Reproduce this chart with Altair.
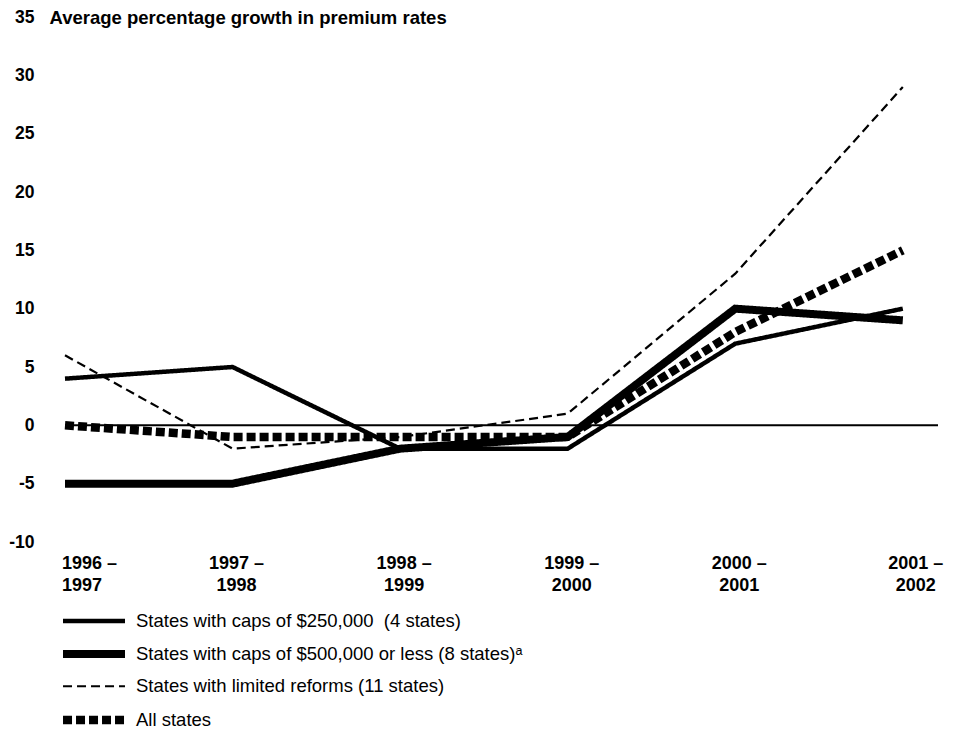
import altair as alt
import pandas as pd

periods = ["1996 –\n1997", "1997 –\n1998", "1998 –\n1999", "1999 –\n2000", "2000 –\n2001", "2001 –\n2002"]
series_names = [
    "States with caps of $250,000\u00a0 (4 states)",
    "States with caps of $500,000 or less (8 states)ᵃ",
    "States with limited reforms (11 states)",
    "All states",
]
caps_250 = [4, 5, -2, -2, 7, 10]
caps_500 = [-5, -5, -2, -1, 10, 9]
limited = [6, -2, -1, 1, 13, 29]
all_states = [0, -1, -1, -1, 8, 15]
y_ticks = [-10, -5, 0, 5, 10, 15, 20, 25, 30, 35]

rows = []
for name, vals in zip(series_names, [caps_250, caps_500, limited, all_states]):
    for i, v in enumerate(vals):
        rows.append({"series": name, "idx": i, "value": v})
df = pd.DataFrame(rows)
labels_df = pd.DataFrame({"idx": list(range(len(periods))), "label": periods})

W, H = 873, 525
FONT = "Liberation Sans"

xscale = alt.Scale(domain=[0, 5.21], nice=False, zero=False)
yscale = alt.Scale(domain=[-10, 35], nice=False, zero=False)

yaxis = alt.Axis(
    values=y_ticks,
    grid=False,
    domain=False,
    ticks=False,
    labelExpr="'' + datum.value",
    labelFont=FONT,
    labelFontSize=17.5,
    labelFontWeight="bold",
    labelColor="black",
    labelPadding=31,
    title="Average percentage growth in premium rates",
    titleFont=FONT,
    titleFontSize=18.5,
    titleFontWeight="bold",
    titleColor="black",
    titleAngle=0,
    titleAlign="left",
    titleBaseline="middle",
    titleX=-16,
    titleY=0,
)

lines = alt.Chart(df).mark_line(color="black", strokeCap="butt", strokeJoin="miter").encode(
    x=alt.X("idx:Q", scale=xscale, axis=None),
    y=alt.Y("value:Q", scale=yscale, axis=yaxis),
    detail="series:N",
    order=alt.Order("idx:Q"),
    strokeWidth=alt.StrokeWidth(
        "series:N",
        scale=alt.Scale(type="ordinal", domain=series_names, range=[4.5, 8, 2.2, 8.5]),
        sort=series_names,
        legend=alt.Legend(title=None),
    ),
    strokeDash=alt.StrokeDash(
        "series:N",
        scale=alt.Scale(domain=series_names, range=[[1, 0], [1, 0], [9, 5], [9, 4]]),
        sort=series_names,
        legend=alt.Legend(title=None),
    ),
)

zero = alt.Chart(pd.DataFrame({"y": [0]})).mark_rule(color="black", strokeWidth=2).encode(
    y=alt.Y("y:Q", scale=yscale, axis=yaxis)
)

text_style = dict(font=FONT, fontSize=18, fontWeight="bold", color="black",
                  baseline="middle", lineBreak="\n", lineHeight=21.5)

base_labels = alt.Chart(labels_df).encode(
    x=alt.X("idx:Q", scale=xscale, axis=None),
    y=alt.value(H + 22),
    text="label:N",
)
xl_first = base_labels.transform_filter("datum.idx == 0").mark_text(align="left", dx=-3, **text_style)
xl_mid = base_labels.transform_filter("datum.idx > 0 && datum.idx < 5").mark_text(align="center", dx=4, **text_style)
xl_last = base_labels.transform_filter("datum.idx == 5").mark_text(align="center", dx=13, **text_style)

chart = alt.layer(lines, zero, xl_first, xl_mid, xl_last).properties(
    width=W, height=H, padding=0
).configure_view(
    stroke=None
).configure_legend(
    orient="none",
    legendX=17,
    legendY=594,
    direction="vertical",
    symbolType="M-4,0H4",
    symbolSize=240,
    symbolStrokeColor="black",
    labelFont=FONT,
    labelFontSize=18.5,
    labelColor="black",
    labelLimit=700,
    rowPadding=7,
    labelOffset=30,
)

chart.save("out.html", embed_options={"renderer": "svg", "actions": False})
